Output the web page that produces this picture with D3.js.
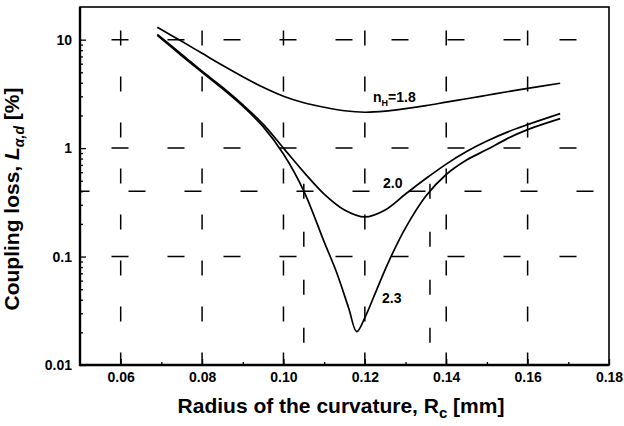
<!DOCTYPE html>
<html>
<head>
<meta charset="UTF-8">
<title>Coupling loss vs radius of curvature</title>
<script src="https://cdn.jsdelivr.net/npm/d3@7"></script>
<style>
  body { margin: 0; background: #fff; }
  text { font-family: "Liberation Sans", Arial, sans-serif; fill: #000; }
</style>
</head>
<body>
<svg id="chart" width="624" height="426"></svg>
<script>
// radius of curvature Rc [mm]
const rc = [0.069, 0.075, 0.08, 0.085, 0.09, 0.095, 0.10, 0.105, 0.11, 0.115, 0.12,
            0.125, 0.13, 0.135, 0.14, 0.145, 0.15, 0.155, 0.16, 0.168];
// coupling loss [%] for nH = 1.8 and 2.0
const loss18 = [13.0, 9.65, 7.48, 5.80, 4.55, 3.64, 3.01, 2.62, 2.38, 2.21, 2.14,
                2.19, 2.31, 2.46, 2.65, 2.85, 3.07, 3.31, 3.56, 3.96];
const loss20 = [11.19, 7.32, 5.11, 3.64, 2.51, 1.663, 1.0, 0.601, 0.377, 0.269, 0.232,
                0.269, 0.377, 0.524, 0.712, 0.929, 1.16, 1.404, 1.645, 2.077];
// nH = 2.3 has a sharp dip, so it gets a few more points
const rc23 = [0.069, 0.075, 0.08, 0.085, 0.09, 0.095, 0.10, 0.105, 0.11, 0.113, 0.116, 0.118,
              0.12, 0.123, 0.126, 0.13, 0.135, 0.14, 0.145, 0.15, 0.155, 0.16, 0.168];
const loss23 = [10.95, 7.10, 5.00, 3.53, 2.435, 1.577, 0.881, 0.402, 0.1365, 0.0723, 0.0337, 0.0203,
                0.0273, 0.0504, 0.0923, 0.184, 0.362, 0.571, 0.776, 0.969, 1.223, 1.48, 1.868];

const xTicks = [0.06, 0.08, 0.10, 0.12, 0.14, 0.16, 0.18];
const xMinor = [0.07, 0.09, 0.11, 0.13, 0.15, 0.17];
const yTicks = [0.01, 0.1, 1, 10];
const yTickLabels = ["0.01", "0.1", "1", "10"];
const yMinor = [0.02, 0.03, 0.04, 0.05, 0.06, 0.07, 0.08, 0.09,
                0.2, 0.3, 0.4, 0.5, 0.6, 0.7, 0.8, 0.9,
                2, 3, 4, 5, 6, 7, 8, 9];
// dashed guide lines
const gridY = [10, 1, 0.4, 0.1];
const gridX = [0.06, 0.08, 0.10, 0.12, 0.14, 0.16];
const markX = [0.105, 0.136];   // where the 2.3 curve crosses 0.4 %
const markLevel = 0.4;

const svg = d3.select("#chart");
const pLeft = 80, pRight = 609, pTop = 7, pBottom = 365;

const x = d3.scaleLinear().domain([0.05, 0.18]).range([pLeft, pRight]);
const y = d3.scaleLog().domain([0.01, 20]).range([pBottom, pTop]);

// horizontal dashed lines
svg.append("g").selectAll("line").data(gridY).join("line")
  .attr("x1", pLeft).attr("x2", pRight)
  .attr("y1", d => y(d)).attr("y2", d => y(d))
  .attr("stroke", "#000").attr("stroke-width", 1.5)
  .attr("stroke-dasharray", "17,39")
  .attr("stroke-dashoffset", d => d == markLevel ? 7.5 : 24.5);

// vertical dashed lines
svg.append("g").selectAll("line").data(gridX).join("line")
  .attr("x1", d => x(d)).attr("x2", d => x(d))
  .attr("y1", pTop).attr("y2", pBottom)
  .attr("stroke", "#000").attr("stroke-width", 1.5)
  .attr("stroke-dasharray", "15,31")
  .attr("stroke-dashoffset", 22.5);

svg.append("g").selectAll("line").data(markX).join("line")
  .attr("x1", d => x(d)).attr("x2", d => x(d))
  .attr("y1", y(markLevel) - 7.5).attr("y2", pBottom)
  .attr("stroke", "#000").attr("stroke-width", 1.5)
  .attr("stroke-dasharray", "15,33");

// axes with inward ticks
svg.append("g").attr("transform", "translate(0," + pBottom + ")")
  .call(d3.axisBottom(x).tickValues(xTicks).tickFormat(d3.format(".2f"))
    .tickSizeInner(-6).tickSizeOuter(0).tickPadding(7));
svg.append("g").attr("transform", "translate(0," + pBottom + ")")
  .call(d3.axisBottom(x).tickValues(xMinor).tickFormat("").tickSizeInner(-3).tickSizeOuter(0));

svg.append("g").attr("transform", "translate(" + pLeft + ",0)")
  .call(d3.axisLeft(y).tickValues(yTicks).tickFormat((d, i) => yTickLabels[i])
    .tickSizeInner(-6).tickSizeOuter(0).tickPadding(8));
svg.append("g").attr("transform", "translate(" + pLeft + ",0)")
  .call(d3.axisLeft(y).tickValues(yMinor).tickFormat("").tickSizeInner(-3).tickSizeOuter(0));

svg.selectAll(".domain").remove();
svg.selectAll(".tick line").attr("stroke", "#000").attr("stroke-width", 1.3);
svg.selectAll(".tick text")
  .style("font-family", "'Liberation Sans', Arial, sans-serif")
  .style("font-size", "14px").style("font-weight", "bold").attr("fill", "#000");

// frame
svg.append("rect").attr("x", pLeft).attr("y", pTop)
  .attr("width", pRight - pLeft).attr("height", pBottom - pTop)
  .attr("fill", "none").attr("stroke", "#000").attr("stroke-width", 1.6);
svg.append("path")
  .attr("d", "M" + pLeft + "," + pTop + "V" + pBottom + "H" + pRight)
  .attr("fill", "none").attr("stroke", "#000").attr("stroke-width", 2.4);

// curves
const line = d3.line().x(d => x(d[0])).y(d => y(d[1])).curve(d3.curveCatmullRom.alpha(0.5));
const series = [
  d3.zip(rc, loss18),
  d3.zip(rc, loss20),
  d3.zip(rc23, loss23)
];
svg.append("g").selectAll("path").data(series).join("path")
  .attr("d", line)
  .attr("fill", "none").attr("stroke", "#000").attr("stroke-width", 1.7);

// curve labels
const lab = svg.append("g").style("font-size", "14px").style("font-weight", "bold");
const t18 = lab.append("text").attr("x", 373).attr("y", 102);
t18.append("tspan").text("n");
t18.append("tspan").attr("dy", 4).style("font-size", "9px").text("H");
t18.append("tspan").attr("dy", -4).text("=1.8");
lab.append("text").attr("x", 383).attr("y", 188).text("2.0");
lab.append("text").attr("x", 382).attr("y", 303).text("2.3");

// axis titles
const xt = svg.append("text").attr("x", 341).attr("y", 413)
  .attr("text-anchor", "middle").style("font-size", "21px").style("font-weight", "bold");
xt.append("tspan").text("Radius of the curvature, R");
xt.append("tspan").attr("dy", 5).style("font-size", "15px").text("c");
xt.append("tspan").attr("dy", -5).text(" [mm]");

const yt = svg.append("text").attr("transform", "translate(19,199) rotate(-90)")
  .attr("text-anchor", "middle").style("font-size", "21px").style("font-weight", "bold");
yt.append("tspan").text("Coupling loss, ");
yt.append("tspan").style("font-style", "italic").text("L");
yt.append("tspan").attr("dy", 5).style("font-style", "italic").style("font-size", "14px").text("α,d");
yt.append("tspan").attr("dy", -5).text(" [%]");
</script>
</body>
</html>
